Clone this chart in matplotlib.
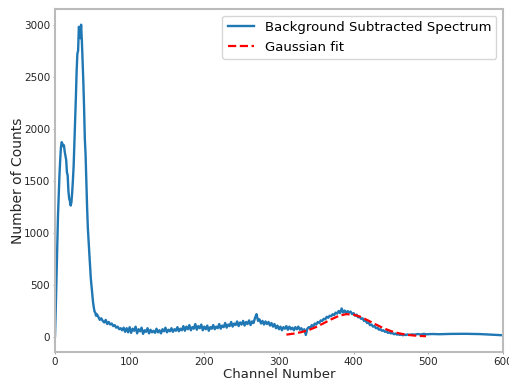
import numpy as np
import matplotlib
matplotlib.use('Agg')
from matplotlib import pyplot as plt

# spectrum values
peak_ch = np.arange(0, 56)
peak_counts = [0, 250, 550, 850, 1150, 1350, 1550, 1700, 1820, 1870,
               1855, 1830, 1840, 1780, 1740, 1700, 1580, 1550, 1400, 1330,
               1300, 1260, 1290, 1380, 1500, 1640, 1850, 2050, 2300, 2550,
               2720, 2750, 2980, 2960, 2870, 3000, 2850, 2650, 2450, 2200,
               1900, 1750, 1500, 1250, 1050, 920, 800, 680, 560, 480,
               400, 330, 280, 240, 230, 200]

mid_ch = np.arange(56, 476, 2)
mid_counts = [215, 190, 160, 175, 150, 135, 160, 120, 140, 115,
              125, 100, 110, 85, 95, 70, 80, 60, 85, 45,
              80, 40, 90, 35, 75, 55, 95, 30, 70, 50,
              85, 25, 60, 45, 80, 30, 65, 40, 55, 35,
              75, 40, 60, 30, 70, 50, 85, 40, 65, 50,
              80, 45, 70, 55, 90, 50, 75, 60, 100, 55,
              95, 70, 110, 60, 90, 75, 120, 65, 100, 80,
              115, 60, 95, 70, 105, 55, 90, 75, 110, 70,
              95, 80, 120, 75, 105, 90, 130, 85, 115, 100,
              140, 95, 125, 110, 145, 100, 135, 115, 150, 105,
              140, 120, 155, 110, 145, 130, 180, 215, 150, 165,
              125, 150, 115, 145, 120, 140, 105, 130, 95, 120,
              80, 105, 70, 95, 60, 90, 75, 100, 65, 95,
              70, 85, 60, 90, 70, 95, 65, 80, 55, 70,
              15, 75, 90, 80, 110, 95, 125, 115, 140, 130,
              155, 150, 170, 165, 190, 180, 200, 195, 215, 205,
              230, 220, 245, 225, 270, 230, 250, 225, 245, 230,
              240, 215, 225, 200, 210, 185, 190, 170, 175, 150,
              155, 130, 135, 110, 115, 95, 100, 80, 85, 65,
              70, 55, 60, 45, 50, 35, 40, 30, 35, 22,
              28, 18, 22, 15, 20, 12, 18, 14, 20, 15]

tail_ch = [478, 482, 486, 490, 494, 498, 505, 515, 530, 550, 570, 585, 600]
tail_counts = [20, 18, 24, 19, 25, 21, 24, 22, 25, 26, 23, 18, 12]

fit_ch = [310, 320, 330, 340, 350, 360, 370, 380, 390, 400,
          410, 420, 430, 440, 450, 460, 470, 480, 490, 497]
fit_counts = [18, 28, 42, 62, 92, 128, 165, 198, 215, 210,
              188, 152, 115, 80, 52, 32, 18, 10, 5, 3]

channels = np.concatenate([peak_ch, mid_ch, tail_ch])
counts = np.concatenate([peak_counts, mid_counts, tail_counts])

fig = plt.figure(figsize=(5.09, 3.79), dpi=100)
ax = fig.add_axes([0.108, 0.071, 0.880, 0.905])

ax.plot(channels, counts, color='#1f77b4', lw=1.7, label='Background Subtracted Spectrum')
ax.plot(fit_ch, fit_counts, color='red', ls='--', lw=1.6, label='Gaussian fit')

ax.set_xlim(0, 600)
ax.set_ylim(-150, 3150)
ax.set_xticks([0, 100, 200, 300, 400, 500, 600])
ax.set_yticks([0, 500, 1000, 1500, 2000, 2500, 3000])

for s in ax.spines.values():
    s.set_color('#bbbbbb')
    s.set_linewidth(1.5)
ax.tick_params(colors='#999999', labelcolor='#262626', labelsize=7.5,
               length=1.5, width=0.6, pad=2)

ax.set_xlabel('Channel Number', fontsize=9.5, labelpad=0.5, color='#262626')
ax.set_ylabel('Number of Counts', fontsize=10, labelpad=-1, color='#262626')
ax.legend(loc='upper right', fontsize=9.5)

fig.savefig('out.png', dpi=100)
